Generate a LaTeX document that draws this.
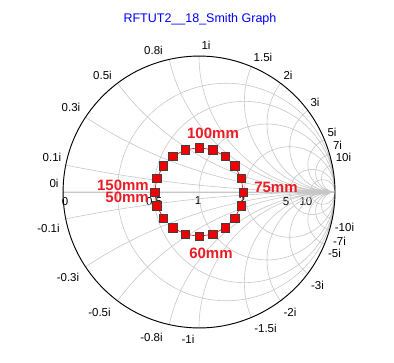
\documentclass[border=0pt]{standalone}
\usepackage{pgfplots}
\pgfplotsset{compat=1.18}
\usepgfplotslibrary{smithchart}
\usepackage{fontspec}
\setmainfont{Liberation Sans}
\definecolor{lblred}{RGB}{235,28,36}
\definecolor{ptred}{RGB}{240,0,0}
\begin{document}
\begin{tikzpicture}[x=1bp,y=1bp]
\path[use as bounding box] (-199,-171) rectangle (195,192);
% real-part labels (drawn first, beneath the markers)
\begin{scope}[every node/.style={font=\fontsize{11.5bp}{13bp}\selectfont, inner sep=0pt}]
\node at (-134,-10) {0};
\node at (-45,-10) {0.5};
\node at (-1,-9) {1};
\node at (43,-8) {2};
\node at (87,-10) {5};
\node at (107,-10) {10};
\end{scope}
\begin{smithchart}[
  at={(0,0)}, anchor=center,
  scale only axis, width=272bp,
  xtick={0,0.25,0.5,1,2,5,10},
  xticklabels={},
  ytick={-10,-7,-5,-3,-2,-1.5,-1,-0.8,-0.5,-0.3,-0.1,0,0.1,0.3,0.5,0.8,1,1.5,2,3,5,7,10},
  yticklabels={},
  major tick length=0pt,
  grid style={black!22, line width=0.6bp},
  separate axis lines,
  y axis line style={black, line width=0.9bp},
  x axis line style={black!22, line width=0.6bp},
]
\addplot[is smithchart cs, ptred, line width=0.6bp, mark=square*,
  mark size=4.2bp, mark options={fill=ptred, draw=black!75, line width=0.5bp}]
coordinates {
(-0.326,0) (-0.3100,-0.1007) (-0.2637,-0.1916) (-0.1916,-0.2637) (-0.1007,-0.3100)
(0,-0.326) (0.1007,-0.3100) (0.1916,-0.2637) (0.2637,-0.1916) (0.3100,-0.1007)
(0.326,0) (0.3100,0.1007) (0.2637,0.1916) (0.1916,0.2637) (0.1007,0.3100)
(0,0.326) (-0.1007,0.3100) (-0.1916,0.2637) (-0.2637,0.1916) (-0.3100,0.1007)
(-0.326,0)
};
\end{smithchart}
\node[text=blue, font=\fontsize{12.5bp}{14bp}\selectfont] at (1,173) {RFTUT2\_\_18\_Smith Graph};
% imaginary-part labels
\begin{scope}[every node/.style={font=\fontsize{11.5bp}{13bp}\selectfont, inner sep=0pt}]
\node at (-145,9) {0i};
\node at (-147,35) {0.1i};
\node at (-128,85) {0.3i};
\node at (-96.5,117) {0.5i};
\node at (-45.5,142) {0.8i};
\node at (7,147) {1i};
\node at (64,135) {1.5i};
\node at (89,117) {2i};
\node at (116,90) {3i};
\node at (133,60) {5i};
\node at (138.5,47) {7i};
\node at (144.5,35) {10i};
\node at (-150.5,-36) {-0.1i};
\node at (-131,-85) {-0.3i};
\node at (-99.5,-120) {-0.5i};
\node at (-47.5,-145) {-0.8i};
\node at (-11,-147) {-1i};
\node at (66.5,-136) {-1.5i};
\node at (91,-120) {-2i};
\node at (118.5,-93) {-3i};
\node at (135.5,-61) {-5i};
\node at (140.5,-49) {-7i};
\node at (145.5,-35) {-10i};
\end{scope}
\begin{scope}[every node/.style={text=lblred, font=\fontsize{15bp}{17bp}\selectfont\bfseries, inner sep=0pt}]
\node at (14,59) {100mm};
\node at (77,5) {75mm};
\node[anchor=east] at (-50,7) {150mm};
\node[anchor=east] at (-50,-5) {50mm};
\node at (12,-61) {60mm};
\end{scope}
\end{tikzpicture}
\end{document}
